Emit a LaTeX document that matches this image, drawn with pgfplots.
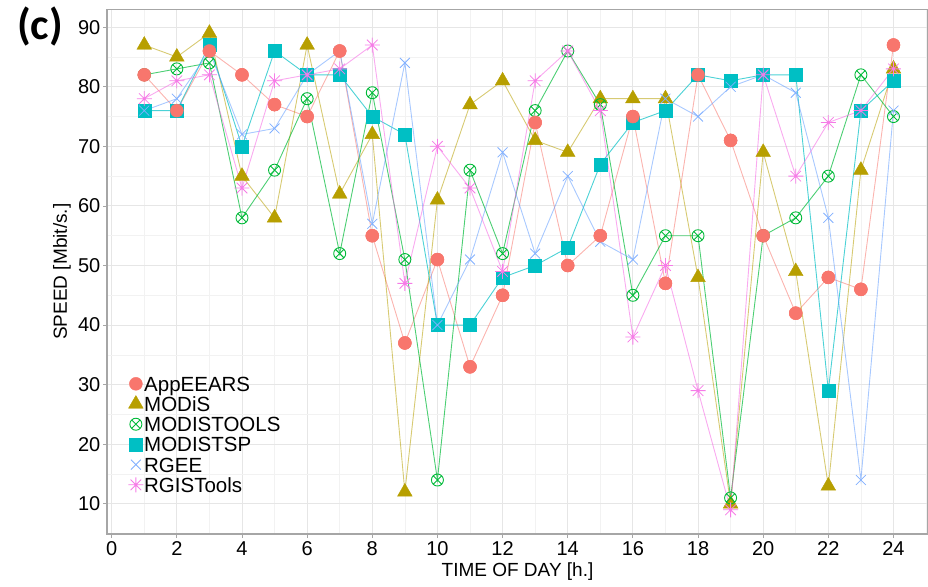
\documentclass[border=0pt]{standalone}
\usepackage{pgfplots}
\usepackage{pgfplotstable}
\pgfplotsset{compat=1.18}
\usetikzlibrary{plotmarks}
\usepackage{fontspec}
\setmainfont{Liberation Sans}
\newfontfamily\cfont{Carlito}

\definecolor{cRed}{HTML}{F8766D}
\definecolor{cGold}{HTML}{B79F00}
\definecolor{cGreen}{HTML}{00BA38}
\definecolor{cCyan}{HTML}{00BFC4}
\definecolor{cBlue}{HTML}{619CFF}
\definecolor{cPink}{HTML}{F564E3}
\definecolor{gridmaj}{HTML}{E6E6E6}
\definecolor{gridmin}{HTML}{F2F2F2}
\definecolor{bordercol}{HTML}{A6A6A6}

\pgfdeclareplotmark{ast8}{%
  \pgfpathmoveto{\pgfqpoint{-\pgfplotmarksize}{0pt}}%
  \pgfpathlineto{\pgfqpoint{\pgfplotmarksize}{0pt}}%
  \pgfpathmoveto{\pgfqpoint{0pt}{-\pgfplotmarksize}}%
  \pgfpathlineto{\pgfqpoint{0pt}{\pgfplotmarksize}}%
  \pgfpathmoveto{\pgfqpoint{-0.7071\pgfplotmarksize}{-0.7071\pgfplotmarksize}}%
  \pgfpathlineto{\pgfqpoint{0.7071\pgfplotmarksize}{0.7071\pgfplotmarksize}}%
  \pgfpathmoveto{\pgfqpoint{-0.7071\pgfplotmarksize}{0.7071\pgfplotmarksize}}%
  \pgfpathlineto{\pgfqpoint{0.7071\pgfplotmarksize}{-0.7071\pgfplotmarksize}}%
  \pgfusepathqstroke}

\pgfplotstableread{
x  app modis tools tsp rgee rgis
1  82  87  82  76  76  78
2  76  85  83  76  78  81
3  86  89  84  87  86  82
4  82  65  58  70  72  63
5  77  58  66  86  73  81
6  75  87  78  82  82  82
7  86  62  52  82  86  83
8  55  72  79  75  57  87
9  37  12  51  72  84  47
10 51  61  14  40  40  70
11 33  77  66  40  51  63
12 45  81  52  48  69  49
13 74  71  76  50  52  81
14 50  69  86  53  65  86
15 55  78  77  67  54  76
16 75  78  45  74  51  38
17 47  78  55  76  78  50
18 82  48  55  82  75  29
19 71  10  11  81  80  9
20 55  69  55  82  82  82
21 42  49  58  82  79  65
22 48  13  65  29  58  74
23 46  66  82  76  14  76
24 87  83  75  81  76  83
}\speed

\begin{document}
\begin{tikzpicture}
\path[use as bounding box] (-107pt,-52pt) rectangle (821pt,534pt);
\begin{axis}[
  at={(0,0)}, anchor=south west,
  scale only axis, width=821pt, height=524.7pt,
  xmin=-0.144, xmax=25.06, ymin=4.94, ymax=93.0,
  xtick={0,2,...,24}, ytick={10,20,...,90},
  minor xtick={1,3,...,25}, minor ytick={5,15,...,85},
  grid=both,
  major grid style={color=gridmaj, line width=0.9pt},
  minor grid style={color=gridmin, line width=0.6pt},
  axis line style={color=bordercol, line width=1.1pt},
  tick style={color=bordercol, line width=0.8pt},
  tick align=outside, tick pos=left,
  major tick length=4pt, minor tick length=0pt,
  /pgf/number format/assume math mode=true,
  ticklabel style={font=\fontsize{20}{20}\selectfont, text=black},
  yticklabel style={inner sep=0pt, xshift=-2.5pt},
  xticklabel style={inner sep=0pt, yshift=-3.7pt},
  xlabel={TIME OF DAY [h.]}, ylabel={SPEED [Mbit/s.]},
  label style={font=\fontsize{19}{20}\selectfont},
  xlabel style={at={(axis description cs:0.5,-0.0715)}, anchor=center},
  ylabel style={at={(axis description cs:-0.0548,0.5)}, anchor=center},
  legend style={at={(axis description cs:0.0258,0.0741)}, anchor=south west,
    draw=none, fill=none, inner sep=0pt, row sep=0pt, column sep=0.8pt,
    font=\fontsize{20.5}{21}\selectfont,
    nodes={inner sep=0pt, text height=17.6pt, text depth=2.6pt}},
  legend cell align=left,
]
% lines
\addplot[forget plot, no marks, color=cRed, draw opacity=0.55, line width=0.9pt] table[x=x,y=app]{\speed};
\addplot[forget plot, no marks, color=cGold, draw opacity=0.55, line width=0.9pt] table[x=x,y=modis]{\speed};
\addplot[forget plot, no marks, color=cGreen, draw opacity=0.7, line width=0.9pt] table[x=x,y=tools]{\speed};
\addplot[forget plot, no marks, color=cCyan, draw opacity=0.7, line width=0.9pt] table[x=x,y=tsp]{\speed};
\addplot[forget plot, no marks, color=cBlue, draw opacity=0.55, line width=0.9pt] table[x=x,y=rgee]{\speed};
\addplot[forget plot, no marks, color=cPink, draw opacity=0.55, line width=0.9pt] table[x=x,y=rgis]{\speed};
% marks
\addplot[only marks, mark=*, color=cRed, mark size=6.5pt] table[x=x,y=app]{\speed};
\addlegendentry{AppEEARS}
\addplot[only marks, mark=triangle*, color=cGold, mark size=8.5pt] table[x=x,y=modis]{\speed};
\addlegendentry{MODiS}
\addplot[only marks, mark=otimes, color=cGreen, mark size=6pt, line width=0.9pt] table[x=x,y=tools]{\speed};
\addlegendentry{MODISTOOLS}
\addplot[only marks, mark=square*, color=cCyan, mark size=6.5pt] table[x=x,y=tsp]{\speed};
\addlegendentry{MODISTSP}
\addplot[only marks, mark=x, color=cBlue!80, mark size=7pt, line width=0.8pt] table[x=x,y=rgee]{\speed};
\addlegendentry{RGEE}
\addplot[only marks, mark=ast8, color=cPink!85, mark size=7.5pt, line width=0.8pt] table[x=x,y=rgis]{\speed};
\addlegendentry{RGISTools}
\addplot[forget plot, only marks, mark=*, color=cRed, mark size=6.5pt] table[x=x,y=app]{\speed};
\end{axis}
\node[font=\cfont\bfseries\fontsize{44}{44}\selectfont, anchor=center] at (-67pt,507pt) {(c)};
\end{tikzpicture}
\end{document}
